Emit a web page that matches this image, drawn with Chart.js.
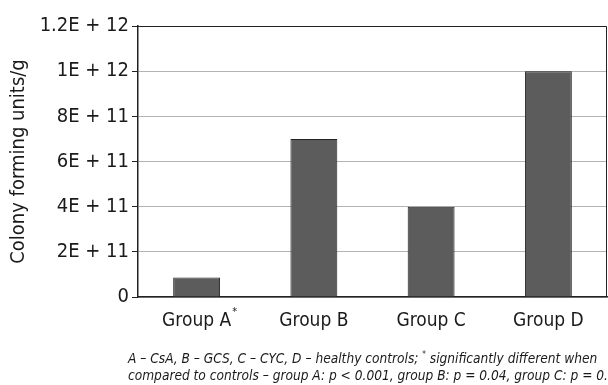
<!DOCTYPE html>
<html>
<head>
<meta charset="utf-8">
<script src="https://cdn.jsdelivr.net/npm/chart.js@4/dist/chart.umd.min.js"></script>
<style>
    html, body { margin: 0; padding: 0; background: #fff; }
    #wrap { position: relative; width: 608px; height: 385px; overflow: hidden; }
    #chart { position: absolute; left: 0; top: 0; }
    #note {
        position: absolute; left: 128px; top: 346px;
        font-family: "Liberation Sans Narrow", "DejaVu Sans Condensed", sans-serif;
        font-style: italic; font-size: 13.6px; line-height: 17px; color: #1a1a1a;
        white-space: nowrap;
    }
    #note sup { font-size: 8px; }
</style>
</head>
<body>
<div id="wrap">
    <canvas id="chart" width="608" height="385"></canvas>
    <div id="note">
        A – CsA, B – GCS, C – CYC, D – healthy controls; <sup>*</sup> significantly different when<br>
        compared to controls – group A: p &lt; 0.001, group B: p = 0.04, group C: p = 0.3
    </div>
</div>
<script>
const groups = ["Group A", "Group B", "Group C", "Group D"];
const cfu = [8.6e10, 7e11, 4e11, 1e12];
const yTickLabels = ["0", "2E + 11", "4E + 11", "6E + 11", "8E + 11", "1E + 12", "1.2E + 12"];
const starred = [true, false, false, false];

const FONT = "'Liberation Sans Narrow', 'DejaVu Sans Condensed', sans-serif";

// frame on top/right + small asterisk after Group A
const extras = {
    id: "extras",
    afterDraw(chart) {
        const ctx = chart.ctx;
        const a = chart.chartArea;
        ctx.save();
        ctx.strokeStyle = "#222";
        ctx.lineWidth = 1;
        ctx.beginPath();
        ctx.moveTo(a.left, a.top + 0.5);
        ctx.lineTo(a.right - 0.5, a.top + 0.5);
        ctx.lineTo(a.right - 0.5, a.bottom);
        ctx.stroke();

        const xs = chart.scales.x;
        ctx.fillStyle = "#1a1a1a";
        starred.forEach((s, i) => {
            if(!s) return;
            ctx.font = "19px " + FONT;
            const w = ctx.measureText(groups[i]).width;
            const x = xs.getPixelForTick(i) + w / 2 + 1;
            ctx.font = "11px " + FONT;
            ctx.textBaseline = "top";
            ctx.fillText("*", x, a.bottom + 10);
        });
        ctx.restore();
    }
};

new Chart(document.getElementById("chart"), {
    type: "bar",
    data: {
        labels: groups,
        datasets: [{
            data: cfu,
            backgroundColor: "#5c5c5c",
            borderColor: "#222",
            borderWidth: 1,
            barPercentage: 0.4,
            categoryPercentage: 1,
        }]
    },
    options: {
        responsive: false,
        animation: false,
        layout: { padding: { top: 26, right: 1, left: 7, bottom: 0 } },
        plugins: {
            legend: { display: false },
            tooltip: { enabled: false },
        },
        scales: {
            x: {
                grid: { display: false },
                border: { color: "#222", width: 1.5 },
                ticks: { color: "#1a1a1a", font: { family: FONT, size: 19 }, padding: 5 },
                afterFit: s => { s.height = 88; },
            },
            y: {
                min: 0,
                max: 1.2e12,
                ticks: {
                    stepSize: 2e11,
                    color: "#1a1a1a",
                    font: { family: FONT, size: 20 },
                    padding: 3,
                    callback: (v, i) => yTickLabels[i],
                },
                grid: {
                    color: "#b4b4b4",
                    tickColor: "#222",
                    tickLength: 6,
                },
                border: { color: "#222", width: 1.5 },
                title: {
                    display: true,
                    text: "Colony forming units/g",
                    color: "#1a1a1a",
                    font: { family: FONT, size: 20 },
                    padding: 0,
                },
                afterFit: s => { s.width = 131; },
            }
        }
    },
    plugins: [extras]
});
</script>
</body>
</html>
